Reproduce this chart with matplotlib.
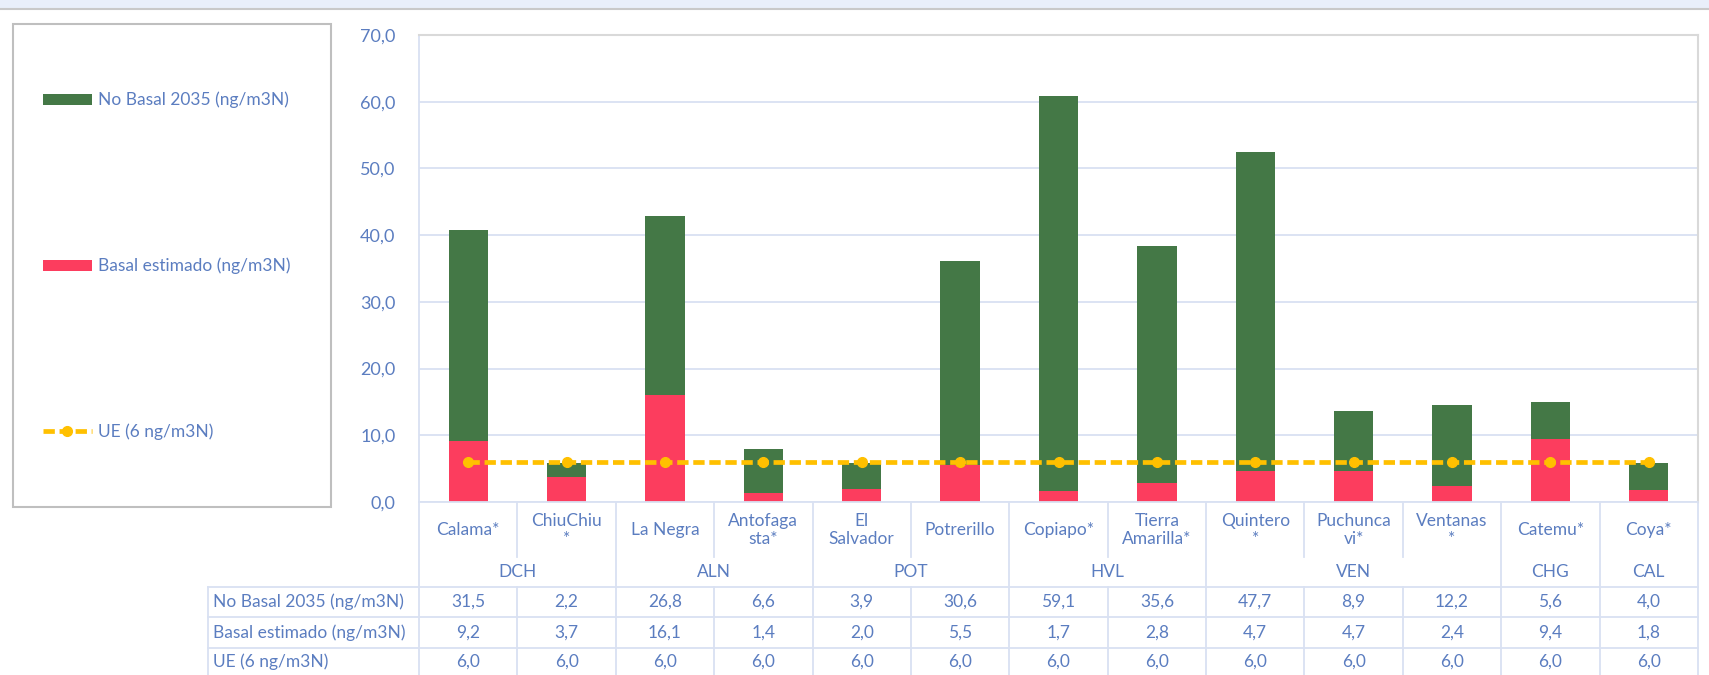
#!/usr/bin/env python3
"""Stacked bars (basal / no basal 2035) per station with UE reference line and data table."""

import matplotlib

matplotlib.use("Agg")
import matplotlib.pyplot as plt
import matplotlib.transforms as mtransforms
from matplotlib.patches import Rectangle

# ---- data -------------------------------------------------------------
stations = ["Calama*", "ChiuChiu\n*", "La Negra", "Antofaga\nsta*", "El\nSalvador", "Potrerillo",
            "Copiapo*", "Tierra\nAmarilla*", "Quintero\n*", "Puchunca\nvi*", "Ventanas\n*",
            "Catemu*", "Coya*"]
groups = ["DCH", "ALN", "POT", "HVL", "VEN", "CHG", "CAL"]
group_sizes = [2, 2, 2, 2, 3, 1, 1]
no_basal = [31.5, 2.2, 26.8, 6.6, 3.9, 30.6, 59.1, 35.6, 47.7, 8.9, 12.2, 5.6, 4.0]
basal = [9.2, 3.7, 16.1, 1.4, 2.0, 5.5, 1.7, 2.8, 4.7, 4.7, 2.4, 9.4, 1.8]
ue = [6.0] * 13
series_names = ["No Basal 2035 (ng/m3N)", "Basal estimado (ng/m3N)", "UE (6 ng/m3N)"]
yticks = [0, 10, 20, 30, 40, 50, 60, 70]

# ---- style ------------------------------------------------------------
W, H = 1709, 675
GREEN = "#447846"
RED = "#FC3D5E"
YELLOW = "#FFC000"
TXT = "#5B7DC0"
GRID = "#D9E1F2"
BORDER = "#D9D9D9"
plt.rcParams["font.family"] = ["Lato", "DejaVu Sans"]


def fmt(v):
    return f"{v:.1f}".replace(".", ",")


fig = plt.figure(figsize=(W / 100, H / 100), dpi=100)

# pixel overlay for frame / table decoration
over = fig.add_axes([0, 0, 1, 1], zorder=0)
over.set_xlim(0, W)
over.set_ylim(H, 0)
over.axis("off")

# plot area: x 419..1698, y 35..502 px
ax = fig.add_axes([419 / W, 1 - 502 / H, (1698 - 419) / W, (502 - 35) / H], zorder=2)
ax.patch.set_alpha(0)
x = list(range(len(stations)))

bars_basal = ax.bar(x, basal, width=0.4, color=RED, zorder=2)
bars_nb = ax.bar(x, no_basal, width=0.4, bottom=basal, color=GREEN, zorder=2)
(ue_line,) = ax.plot(x, ue, color=YELLOW, lw=3.4, ls="--", dashes=(2.4, 1.0),
                     marker="o", ms=7, zorder=3)

ax.set_xlim(-0.5, len(stations) - 0.5)
ax.set_ylim(0, 70)
ax.set_yticks(yticks)
ax.set_yticklabels([fmt(v) for v in yticks])
ax.tick_params(axis="y", length=0, pad=17, labelsize=13, labelcolor=TXT)
ax.set_xticks([])
ax.grid(axis="y", color=GRID, lw=1.3, zorder=0)
ax.set_axisbelow(True)
for side in ("top", "right"):
    ax.spines[side].set_color(BORDER)
    ax.spines[side].set_linewidth(1.5)
ax.spines["left"].set_color(GRID)
ax.spines["left"].set_linewidth(1.3)
ax.spines["bottom"].set_color(GRID)
ax.spines["bottom"].set_linewidth(1.3)

# top window strip
over.add_patch(Rectangle((0, 0), W, 8, color="#E9EFFA", lw=0))
over.plot([0, W], [8.5, 8.5], color="#C9C9C9", lw=1.5)

# legend box
over.add_patch(Rectangle((13, 24), 318, 483, fill=False, edgecolor="#BFBFBF", lw=1.5))
fig.legend([bars_nb, bars_basal, ue_line], series_names, loc="center left",
           bbox_to_anchor=(43 / W, 1 - 266 / H), frameon=False, fontsize=12.5,
           labelcolor=TXT, handlelength=2.8, handleheight=0.6, handletextpad=0.35,
           labelspacing=8.6, borderpad=0, borderaxespad=0)

# ---- data table --------------------------------------------------------
tx = mtransforms.blended_transform_factory(ax.transData, over.transData)
lc = dict(color=GRID, lw=1.3, clip_on=False, zorder=1)
fs = 12.5

for i, name in enumerate(stations):
    over.text(i, 530, name, transform=tx, ha="center", va="center", color=TXT,
              fontsize=fs, linespacing=1.15)

# short separators between stations inside a group, full ones between groups
edges = [-0.5]
for n in group_sizes:
    edges.append(edges[-1] + n)
for i in range(len(stations) + 1):
    xb = i - 0.5
    if xb in edges:
        over.plot([xb, xb], [502, H], transform=tx, **lc)
    else:
        over.plot([xb, xb], [502, 557], transform=tx, **lc)
        over.plot([xb, xb], [587, H], transform=tx, **lc)

for g, a, b in zip(groups, edges[:-1], edges[1:]):
    over.text((a + b) / 2, 572, g, transform=tx, ha="center", va="center", color=TXT, fontsize=fs)

# left label column
over.plot([208, 208], [587, H], **lc)
for yl in (587, 617, 648):
    over.plot([208, 1698], [yl, yl], **lc)

rows = [no_basal, basal, ue]
row_y = [602, 632.5, 662]
for vals, label, yr in zip(rows, series_names, row_y):
    over.text(213, yr, label, ha="left", va="center", color=TXT, fontsize=fs)
    for i, v in enumerate(vals):
        over.text(i, yr, fmt(v), transform=tx, ha="center", va="center", color=TXT, fontsize=fs)

fig.savefig("out.png", dpi=100)
